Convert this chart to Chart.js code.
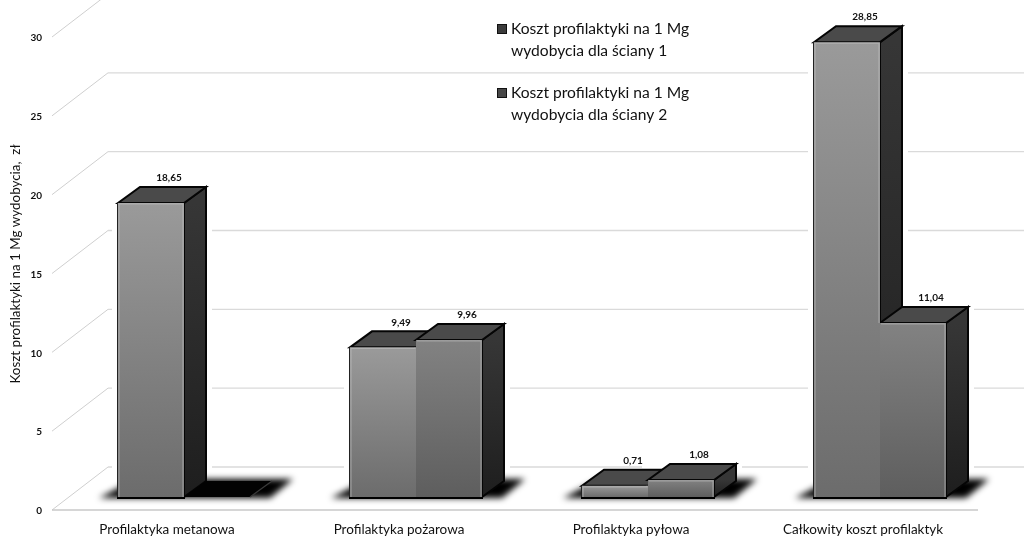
<!DOCTYPE html>
<html lang="pl">
<head>
<meta charset="utf-8">
<title>Koszt profilaktyki</title>
<script src="https://cdn.jsdelivr.net/npm/chart.js@4"></script>
<style>
    html, body { margin: 0; padding: 0; background: #fff; }
    canvas { display: block; }
</style>
</head>
<body>
<canvas id="chart" width="1024" height="545"></canvas>
<script>
const categories = ['Profilaktyka metanowa', 'Profilaktyka pożarowa', 'Profilaktyka pyłowa', 'Całkowity koszt profilaktyk'];
const wall1 = [18.65, 9.49, 0.71, 28.85];
const wall2 = [0, 9.96, 1.08, 11.04];
const legend1 = ['Koszt profilaktyki na 1 Mg', 'wydobycia dla ściany 1'];
const legend2 = ['Koszt profilaktyki na 1 Mg', 'wydobycia dla ściany 2'];
const axisTitle = 'Koszt profilaktyki na 1 Mg wydobycia,  zł';

const FONT = 'Lato, "Open Sans", sans-serif';

// 3D look: how far the bar depth and the walls sit from the bar plane
const DEPTH_X = 22, DEPTH_Y = 16;
const WALL_X = 108, WALL_DY = 30, FLOOR_X = 52, FLOOR_DY = 13;

function poly(ctx, pts) {
    ctx.beginPath();
    pts.forEach((p, i) => i ? ctx.lineTo(p[0], p[1]) : ctx.moveTo(p[0], p[1]));
    ctx.closePath();
}

function barGradient(context, light, dark) {
    // chart.js also resolves this before the scale has its pixels
    const y = context.chart.scales.y;
    if (context.raw === undefined || !y) return light;
    const top = y.getPixelForValue(context.raw);
    const base = y.getPixelForValue(0);
    if (!isFinite(top) || !isFinite(base)) return light;
    const g = context.chart.ctx.createLinearGradient(0, top, 0, base);
    g.addColorStop(0, light);
    g.addColorStop(1, dark);
    return g;
}

const walls = {
    id: 'walls',
    beforeDatasetsDraw(chart) {
        const { ctx, scales: { y } } = chart;
        ctx.save();

        // grid on the back wall and the slanted part on the side wall
        y.ticks.forEach(t => {
            const py = y.getPixelForValue(t.value);
            ctx.strokeStyle = '#cfcfcf';
            ctx.lineWidth = 1;
            ctx.beginPath();
            ctx.moveTo(FLOOR_X, py + FLOOR_DY);
            ctx.lineTo(WALL_X, py - WALL_DY);
            ctx.stroke();
            ctx.strokeStyle = '#dadada';
            ctx.lineWidth = 1.4;
            ctx.beginPath();
            ctx.moveTo(WALL_X, py - WALL_DY);
            ctx.lineTo(1024, py - WALL_DY);
            ctx.stroke();
        });

        // front edge of the floor
        const y0 = y.getPixelForValue(0);
        ctx.strokeStyle = '#c8c8c8';
        ctx.lineWidth = 1.4;
        ctx.beginPath();
        ctx.moveTo(FLOOR_X, y0 + FLOOR_DY);
        ctx.lineTo(978, y0 + FLOOR_DY);
        ctx.stroke();

        const metaA = chart.getDatasetMeta(0).data;
        const metaB = chart.getDatasetMeta(1).data;

        metaA.forEach((a, i) => {
            const b = metaB[i];
            const left = a.x - a.width / 2;
            const right = b.x + b.width / 2;

            // white halo that breaks the grid lines round each bar pair
            ctx.fillStyle = '#fff';
            [a, b].forEach(bar => {
                const l = bar.x - bar.width / 2 - 6;
                const r = bar.x + bar.width / 2 + DEPTH_X + 6;
                if (bar.height > 1) ctx.fillRect(l, bar.y - DEPTH_Y - 1, r - l, y0 - bar.y + DEPTH_Y);
            });

            // blurred shadow on the floor
            ctx.save();
            ctx.filter = 'blur(3px)';
            ctx.fillStyle = '#000';
            poly(ctx, [[left - 19, y0 + 1], [right + 20, y0 + 1], [right + 43, y0 - 18], [left + 18, y0 - 18]]);
            ctx.fill();
            ctx.restore();
        });

        // sides and tops, first series behind the second one
        [metaA, metaB].forEach(meta => {
            meta.forEach(bar => {
                const l = bar.x - bar.width / 2;
                const r = bar.x + bar.width / 2;
                const t = bar.y;
                const base = y0;

                if (bar.height < 1) {
                    // empty bar: only its black footprint and the far edge
                    ctx.fillStyle = '#020202';
                    poly(ctx, [[l, base], [r, base], [r + DEPTH_X, base - DEPTH_Y], [l + DEPTH_X, base - DEPTH_Y]]);
                    ctx.fill();
                    ctx.strokeStyle = '#3a3a3a';
                    ctx.lineWidth = 1.2;
                    ctx.beginPath();
                    ctx.moveTo(r, base);
                    ctx.lineTo(r + DEPTH_X, base - DEPTH_Y);
                    ctx.stroke();
                    return;
                }

                const side = ctx.createLinearGradient(0, t, 0, base);
                side.addColorStop(0, '#363636');
                side.addColorStop(1, '#1e1e1e');
                ctx.fillStyle = side;
                ctx.strokeStyle = '#050505';
                ctx.lineWidth = 2;
                poly(ctx, [[r, t], [r + DEPTH_X, t - DEPTH_Y], [r + DEPTH_X, base - DEPTH_Y], [r, base]]);
                ctx.fill();
                ctx.stroke();

                ctx.fillStyle = '#4a4a4a';
                poly(ctx, [[l, t], [r, t], [r + DEPTH_X, t - DEPTH_Y], [l + DEPTH_X, t - DEPTH_Y]]);
                ctx.fill();
                ctx.stroke();
            });
        });
        ctx.restore();
    },
    afterDatasetsDraw(chart) {
        const { ctx, scales: { y } } = chart;
        const y0 = y.getPixelForValue(0);
        const metaB = chart.getDatasetMeta(1).data;
        ctx.save();
        chart.data.datasets.forEach((ds, d) => {
            chart.getDatasetMeta(d).data.forEach((bar, i) => {
                if (bar.height < 1) return;
                const l = bar.x - bar.width / 2;
                const r = bar.x + bar.width / 2;

                // light rim on the outer edges only, none where two bars meet
                const rightEnd = d === 1 ? y0 : Math.max(bar.y, metaB[i].y);
                const leftEnd = d === 0 ? y0 : bar.y + 1;
                ctx.strokeStyle = 'rgba(200,200,200,0.5)';
                ctx.lineWidth = 1.2;
                ctx.beginPath();
                ctx.moveTo(l + 1, leftEnd);
                ctx.lineTo(l + 1, bar.y + 1);
                ctx.lineTo(r - 1, bar.y + 1);
                ctx.lineTo(r - 1, rightEnd);
                ctx.stroke();
                if (d === 0) {
                    ctx.fillStyle = '#222';
                    ctx.fillRect(l - 1, bar.y, 1, y0 - bar.y);
                }
                ctx.fillStyle = '#000';
                ctx.fillRect(l - 1, y0, r - l + 2, 2);

                // value label over the bar depth
                ctx.fillStyle = '#111';
                ctx.font = 'bold 10px ' + FONT;
                ctx.textAlign = 'center';
                ctx.textBaseline = 'middle';
                ctx.fillText(ds.data[i].toFixed(2).replace('.', ','), bar.x + 18, bar.y - 25);
            });
        });

        // legend
        const items = [[legend1, 24, '#3c3c3c'], [legend2, 88, '#474747']];
        items.forEach(([lines, top, colour]) => {
            ctx.fillStyle = colour;
            ctx.fillRect(497, top, 10, 10);
            ctx.strokeStyle = '#111';
            ctx.lineWidth = 1;
            ctx.strokeRect(497.5, top + 0.5, 9, 9);
            ctx.fillStyle = '#111';
            ctx.font = '15.6px ' + FONT;
            ctx.textAlign = 'left';
            ctx.textBaseline = 'middle';
            lines.forEach((line, n) => ctx.fillText(line, 511, top + 5 + n * 22));
        });

        // axis title sits lower than chart.js would centre it
        ctx.translate(16, 264);
        ctx.rotate(-Math.PI / 2);
        ctx.fillStyle = '#111';
        ctx.font = '13.4px ' + FONT;
        ctx.textAlign = 'center';
        ctx.textBaseline = 'middle';
        ctx.fillText(axisTitle, 0, 0);
        ctx.restore();
    }
};

new Chart(document.getElementById('chart'), {
    type: 'bar',
    data: {
        labels: categories,
        datasets: [
            {
                label: legend1.join(' '),
                data: wall1,
                backgroundColor: c => barGradient(c, '#9a9a9a', '#6c6c6c'),
                borderWidth: 0
            },
            {
                label: legend2.join(' '),
                data: wall2,
                backgroundColor: c => barGradient(c, '#828282', '#5e5e5e'),
                borderWidth: 0
            }
        ]
    },
    options: {
        responsive: false,
        animation: false,
        layout: { padding: { top: 24, right: 28, left: 0, bottom: 0 } },
        categoryPercentage: 0.569,
        barPercentage: 1,
        plugins: { legend: { display: false }, tooltip: { enabled: false } },
        scales: {
            x: {
                grid: { display: false },
                border: { display: false },
                afterFit: s => { s.height = 48; },
                ticks: {
                    color: '#111',
                    font: { family: FONT, size: 13.5 },
                    padding: 17,
                    labelOffset: -17,
                    maxRotation: 0
                }
            },
            y: {
                min: 0,
                max: 30,
                grid: { display: false, drawTicks: false },
                border: { display: false },
                afterFit: s => { s.width = 68; s.paddingTop = 0; s.paddingBottom = 0; },
                ticks: {
                    stepSize: 5,
                    color: '#111',
                    font: { family: FONT, size: 10, weight: 'bold' },
                    padding: 26,
                    labelOffset: 14
                }
            }
        }
    },
    plugins: [walls]
});
</script>
</body>
</html>
